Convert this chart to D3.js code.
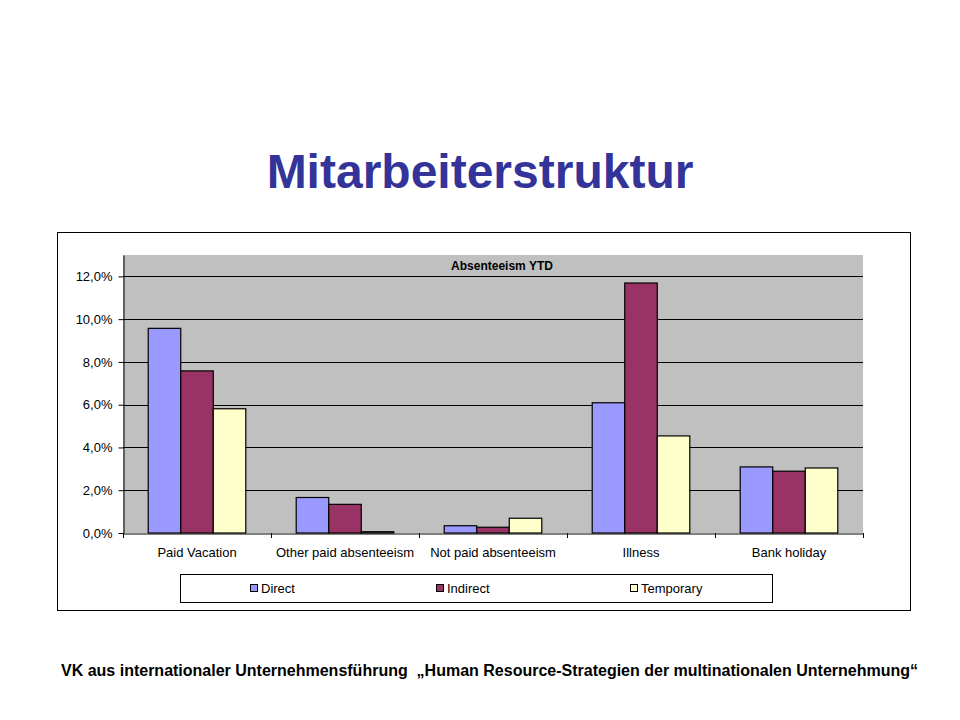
<!DOCTYPE html>
<html>
<head>
<meta charset="utf-8">
<script src="https://cdn.jsdelivr.net/npm/d3@7"></script>
<style>
  html, body { margin: 0; padding: 0; background: #fff; }
  svg { display: block; }
  text { font-family: "Liberation Sans", Arial, sans-serif; }
</style>
</head>
<body>
<svg id="chart" width="960" height="720"></svg>
<script>
const categories = ["Paid Vacation", "Other paid absenteeism", "Not paid absenteeism", "Illness", "Bank holiday"];
const seriesNames = ["Direct", "Indirect", "Temporary"];
const direct    = [9.57, 1.66, 0.34, 6.09, 3.09];
const indirect  = [7.58, 1.34, 0.27, 11.69, 2.89];
const temporary = [5.81, 0.06, 0.69, 4.54, 3.04];
const yTicks = [0, 2, 4, 6, 8, 10, 12];
const seriesColors = ["#9999FF", "#993366", "#FFFFCC"];

const seriesValues = [direct, indirect, temporary];
const svg = d3.select("#chart");

// Slide title
svg.append("text")
  .attr("x", 480).attr("y", 188)
  .attr("text-anchor", "middle")
  .attr("font-size", 48).attr("font-weight", "bold")
  .attr("fill", "#333399")
  .text("Mitarbeiterstruktur");

// Chart frame
svg.append("rect")
  .attr("x", 57.5).attr("y", 232.5).attr("width", 853).attr("height", 378)
  .attr("fill", "#fff").attr("stroke", "#000").attr("stroke-width", 1);

const plot = { left: 123, right: 863, top: 255, bottom: 533 };

const x0 = d3.scaleBand().domain(categories).range([plot.left, plot.right]).padding(0);
const x1 = d3.scaleBand().domain(seriesNames).range([0, x0.bandwidth()]).paddingInner(0).paddingOuter(0.775);
const y = d3.scaleLinear().domain([0, 13]).range([plot.bottom, plot.top]);

// Plot background
svg.append("rect")
  .attr("x", plot.left).attr("y", plot.top)
  .attr("width", plot.right - plot.left).attr("height", plot.bottom - plot.top)
  .attr("fill", "#C0C0C0");

// Gridlines
svg.append("g").selectAll("line")
  .data(yTicks.filter(d => d > 0))
  .join("line")
  .attr("x1", plot.left).attr("x2", plot.right)
  .attr("y1", d => Math.round(y(d)) + 0.5).attr("y2", d => Math.round(y(d)) + 0.5)
  .attr("stroke", "#000").attr("stroke-width", 1);

// Chart title
svg.append("text")
  .attr("x", 502).attr("y", 270)
  .attr("text-anchor", "middle")
  .attr("font-size", 12).attr("font-weight", "bold")
  .text("Absenteeism YTD");

// Bars
const data = [];
categories.forEach((c, i) => {
  seriesNames.forEach((s, j) => data.push({ cat: c, ser: s, val: seriesValues[j][i], color: seriesColors[j] }));
});
svg.append("g").selectAll("rect")
  .data(data)
  .join("rect")
  .attr("x", d => x0(d.cat) + x1(d.ser))
  .attr("y", d => y(d.val))
  .attr("width", x1.bandwidth())
  .attr("height", d => y(0) - y(d.val))
  .attr("fill", d => d.color)
  .attr("stroke", "#000").attr("stroke-width", 1.2);

// Y axis
const yAxis = d3.axisLeft(y).tickValues(yTicks).tickSizeInner(5).tickSizeOuter(0)
  .tickFormat(d => d3.format(".1f")(d).replace(".", ",") + "%");
const yg = svg.append("g").attr("transform", `translate(${plot.left + 0.5},0)`).call(yAxis);
yg.select(".domain").attr("stroke", "#000");
yg.selectAll(".tick line").attr("stroke", "#000");
yg.selectAll(".tick text").attr("font-size", 13).attr("font-family", "Liberation Sans, Arial, sans-serif").attr("fill", "#000").attr("x", -11);

// X axis
const xAxis = d3.axisBottom(x0).tickSize(0).tickSizeOuter(0);
const xg = svg.append("g").attr("transform", `translate(0,${plot.bottom + 0.5})`).call(xAxis);
xg.select(".domain").attr("stroke", "#000");
xg.selectAll(".tick text").attr("font-size", 13).attr("font-family", "Liberation Sans, Arial, sans-serif").attr("fill", "#000").attr("dy", 0).attr("y", 23);
// category separator ticks
const boundaries = categories.map(c => x0(c)).concat([x0.range()[1]]);
svg.append("g").selectAll("line")
  .data(boundaries)
  .join("line")
  .attr("x1", d => Math.round(d) + 0.5).attr("x2", d => Math.round(d) + 0.5)
  .attr("y1", plot.bottom).attr("y2", plot.bottom + 5)
  .attr("stroke", "#000");

// Legend
svg.append("rect")
  .attr("x", 180.5).attr("y", 574.5).attr("width", 592).attr("height", 28)
  .attr("fill", "#fff").attr("stroke", "#000").attr("stroke-width", 1);
const legendX = [250, 436, 630];
const lg = svg.append("g").selectAll("g")
  .data(seriesNames)
  .join("g")
  .attr("transform", (d, i) => `translate(${legendX[i]},584)`);
lg.append("rect")
  .attr("x", 0.5).attr("y", 0.5).attr("width", 7).attr("height", 7)
  .attr("fill", (d, i) => seriesColors[i]).attr("stroke", "#000");
lg.append("text")
  .attr("x", 11).attr("y", 8.5)
  .attr("font-size", 13)
  .text(d => d);

// Footer
svg.append("text")
  .attr("x", 489.5).attr("y", 676)
  .attr("text-anchor", "middle")
  .attr("font-size", 16).attr("font-weight", "bold")
  .style("white-space", "pre")
  .text("VK aus internationaler Unternehmensführung  „Human Resource-Strategien der multinationalen Unternehmung“");
</script>
</body>
</html>
